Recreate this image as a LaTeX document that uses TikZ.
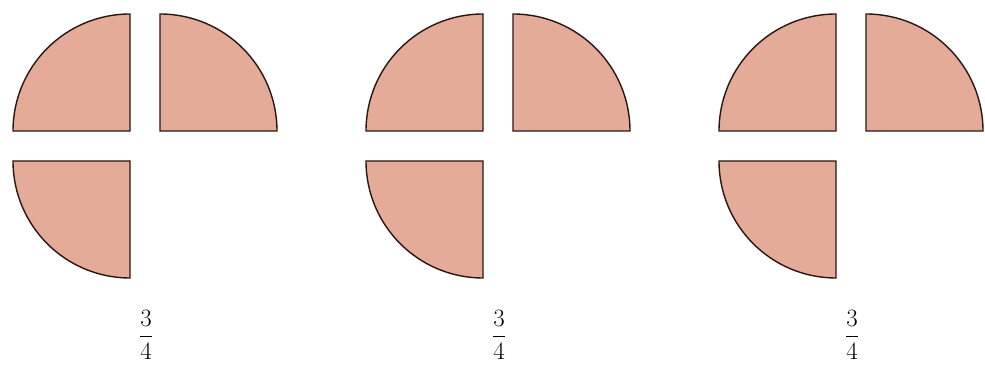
\documentclass[tikz,border=0pt]{standalone}
\usepackage{amsmath}
\usepackage{tikz}
\definecolor{slice}{RGB}{227,171,152}
\definecolor{rim}{RGB}{40,22,18}

\begin{document}
\begin{tikzpicture}[
      x=1pt, y=1pt,
      piece/.style={draw=rim, line width=1.4pt, fill=slice},
      fraclabel/.style={font=\fontsize{28}{32}\selectfont, inner sep=0pt}
    ]
    \useasboundingbox (0,0) rectangle (985,374);
    \foreach \name/\cx in {one/130, two/483, three/836} {
      \begin{scope}[xshift=\cx]
        % upper left quarter
        \draw[piece] (0,243) -- (-117,243) arc[start angle=180, end angle=90, radius=117] -- cycle;
        % upper right quarter
        \draw[piece] (30,243) -- (30,360) arc[start angle=90, end angle=0, radius=117] -- cycle;
        % lower left quarter
        \draw[piece] (0,213) -- (-117,213) arc[start angle=180, end angle=270, radius=117] -- cycle;
        \node[fraclabel] (frac-\name) at (16,39) {$\dfrac{3}{4}$};
      \end{scope}
    }
  \end{tikzpicture}
\end{document}
